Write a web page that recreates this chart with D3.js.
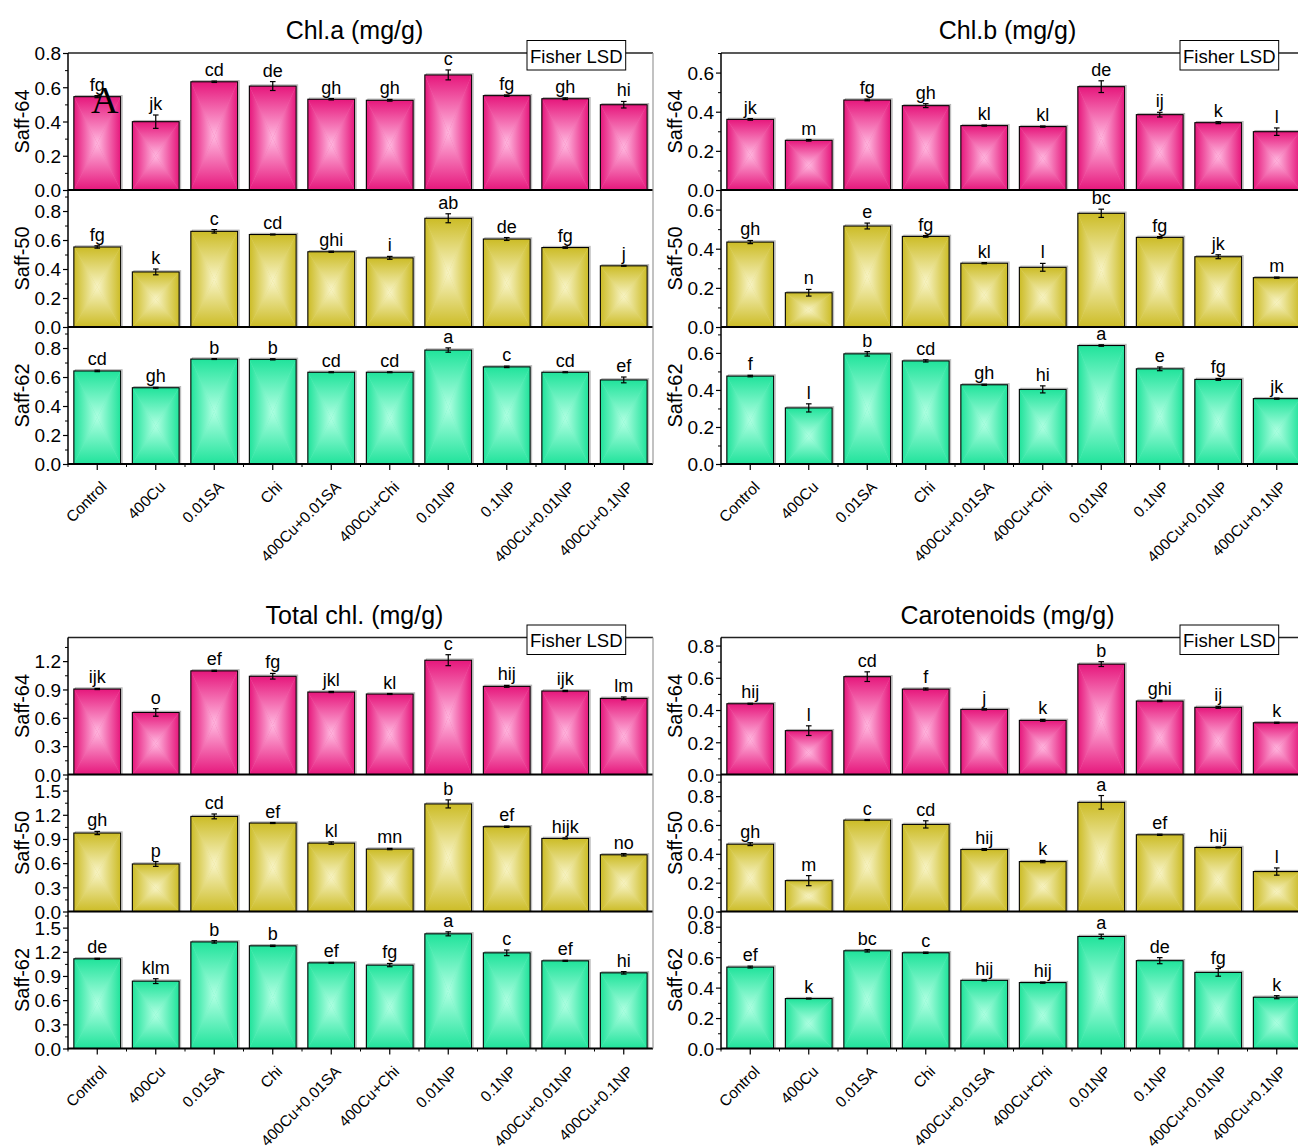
<!DOCTYPE html>
<html><head><meta charset="utf-8">
<script src="https://cdn.jsdelivr.net/npm/d3@7"></script>
<style>
body{margin:0;background:#fff;}
svg text{font-family:"Liberation Sans",Arial,sans-serif;fill:#000;}
</style></head><body>
<svg id="chart" width="1298" height="1146"></svg>
<script>
const categories = ["Control","400Cu","0.01SA","Chi","400Cu+0.01SA","400Cu+Chi","0.01NP","0.1NP","400Cu+0.01NP","400Cu+0.1NP"];
const genotypes = ["Saff-64","Saff-50","Saff-62"];
const panelTitles = ["Chl.a (mg/g)","Chl.b (mg/g)","Total chl. (mg/g)","Carotenoids (mg/g)"];
const legendText = "Fisher LSD";
const panelTag = "A";

const chlA_mean = [
 [0.545,0.399,0.632,0.607,0.530,0.524,0.672,0.551,0.533,0.498],
 [0.552,0.380,0.660,0.638,0.519,0.477,0.750,0.607,0.548,0.422],
 [0.642,0.526,0.724,0.722,0.633,0.633,0.786,0.670,0.633,0.580]];
const chlA_sd = [
 [0.006,0.039,0.004,0.026,0.004,0.005,0.029,0.004,0.005,0.019],
 [0.008,0.020,0.012,0.003,0.004,0.010,0.031,0.010,0.005,0.003],
 [0.005,0.003,0.003,0.004,0.003,0.003,0.015,0.005,0.003,0.020]];
const chlA_letters = [
 ["fg","jk","cd","de","gh","gh","c","fg","gh","hi"],
 ["fg","k","c","cd","ghi","i","ab","de","fg","j"],
 ["cd","gh","b","b","cd","cd","a","c","cd","ef"]];
const chlA_ymax = [0.8, 0.945, 0.945];
const chlA_ticks = [0,0.2,0.4,0.6,0.8];

const chlB_mean = [
 [0.361,0.254,0.460,0.431,0.329,0.324,0.528,0.385,0.344,0.298],
 [0.434,0.175,0.516,0.463,0.326,0.305,0.581,0.458,0.359,0.252],
 [0.475,0.303,0.595,0.557,0.428,0.403,0.640,0.514,0.457,0.353]];
const chlB_sd = [
 [0.004,0.004,0.004,0.010,0.003,0.003,0.030,0.012,0.005,0.019],
 [0.008,0.017,0.015,0.004,0.003,0.020,0.021,0.004,0.010,0.003],
 [0.004,0.022,0.012,0.006,0.003,0.019,0.004,0.010,0.005,0.003]];
const chlB_letters = [
 ["jk","m","fg","gh","kl","kl","de","ij","k","l"],
 ["gh","n","e","fg","kl","l","bc","fg","jk","m"],
 ["f","l","b","cd","gh","hi","a","e","fg","jk"]];
const chlB_ymax = [0.7, 0.7, 0.74];
const chlB_ticks = [0,0.2,0.4,0.6];

const totChl_mean = [
 [0.905,0.657,1.097,1.040,0.873,0.852,1.210,0.933,0.884,0.806],
 [0.974,0.590,1.180,1.098,0.849,0.775,1.335,1.052,0.907,0.704],
 [1.113,0.836,1.323,1.274,1.063,1.035,1.423,1.187,1.088,0.939]];
const totChl_sd = [
 [0.006,0.040,0.006,0.030,0.006,0.005,0.058,0.010,0.006,0.015],
 [0.020,0.030,0.030,0.006,0.015,0.008,0.050,0.008,0.006,0.015],
 [0.006,0.030,0.015,0.008,0.006,0.020,0.025,0.035,0.006,0.015]];
const totChl_letters = [
 ["ijk","o","ef","fg","jkl","kl","c","hij","ijk","lm"],
 ["gh","p","cd","ef","kl","mn","b","ef","hijk","no"],
 ["de","klm","b","b","ef","fg","a","c","ef","hi"]];
const totChl_ymax = [1.45, 1.7, 1.7];
const totChl_ticks = [0,0.3,0.6,0.9,1.2,1.5];

const carot_mean = [
 [0.439,0.272,0.607,0.530,0.404,0.336,0.685,0.456,0.417,0.321],
 [0.467,0.214,0.634,0.604,0.430,0.346,0.757,0.532,0.444,0.277],
 [0.535,0.328,0.642,0.629,0.448,0.433,0.736,0.577,0.500,0.337]];
const carot_sd = [
 [0.003,0.030,0.030,0.006,0.004,0.006,0.015,0.004,0.006,0.003],
 [0.010,0.035,0.003,0.025,0.006,0.008,0.047,0.004,0.003,0.025],
 [0.006,0.003,0.008,0.004,0.004,0.004,0.015,0.020,0.025,0.010]];
const carot_letters = [
 ["hij","l","cd","f","j","k","b","ghi","ij","k"],
 ["gh","m","c","cd","hij","k","a","ef","hij","l"],
 ["ef","k","bc","c","hij","hij","a","de","fg","k"]];
const carot_ymax = [0.85, 0.95, 0.9];
const carot_ticks = [0,0.2,0.4,0.6,0.8];

const barEdgeColors = ["#E6177C","#CCBC26","#20E39B"];
const barCenterColors = ["#FFB8DF","#F8F4C6","#B0FFE2"];

// ---------------- drawing ----------------
const svg = d3.select("#chart");
const defs = svg.append("defs");
const dirs = {top:[0,0,0,1], bottom:[0,1,0,0], left:[0,0,1,0], right:[1,0,0,0]};
barEdgeColors.forEach((ec,i)=>{
  Object.entries(dirs).forEach(([k,v])=>{
    const g = defs.append("linearGradient").attr("id",`g${i}-${k}`)
      .attr("x1",v[0]).attr("y1",v[1]).attr("x2",v[2]).attr("y2",v[3]);
    g.append("stop").attr("offset",0).attr("stop-color",ec);
    g.append("stop").attr("offset",1).attr("stop-color",barCenterColors[i]);
  });
});

const W = 585, H = 137;
const panels = [
  {left:68, top:53, mean:chlA_mean, sd:chlA_sd, letters:chlA_letters, ymax:chlA_ymax, ticks:chlA_ticks, step:0.2},
  {left:721, top:53, mean:chlB_mean, sd:chlB_sd, letters:chlB_letters, ymax:chlB_ymax, ticks:chlB_ticks, step:0.2},
  {left:68, top:637.5, mean:totChl_mean, sd:totChl_sd, letters:totChl_letters, ymax:totChl_ymax, ticks:totChl_ticks, step:0.3},
  {left:721, top:637.5, mean:carot_mean, sd:carot_sd, letters:carot_letters, ymax:carot_ymax, ticks:carot_ticks, step:0.2}
];

panels.forEach((p,pi)=>{
  const g = svg.append("g");
  const x = d3.scaleBand().domain(categories).range([p.left, p.left+W]).paddingInner(0.2).paddingOuter(0.1);
  const bw = x.bandwidth();

  genotypes.forEach((gen,si)=>{
    const top = p.top + si*H, bottom = top + H;
    const y = d3.scaleLinear().domain([0, p.ymax[si]]).range([bottom, top]);
    const sg = g.append("g");
    categories.forEach((c,ci)=>{
      const v = p.mean[si][ci], e = p.sd[si][ci];
      const x0 = x(c), x1 = x0+bw, y0 = y(v), y1 = y(0);
      const cx = (x0+x1)/2, cy = (y0+y1)/2;
      // shadow
      sg.append("rect").attr("x",x0+1.5).attr("y",y0-1.2).attr("width",bw).attr("height",y1-y0+1.2)
        .attr("fill","none").attr("stroke","#b5b5b5").attr("stroke-width",1);
      sg.append("rect").attr("x",x0).attr("y",y0).attr("width",bw).attr("height",y1-y0)
        .attr("fill", d3.interpolateRgb(barEdgeColors[si], barCenterColors[si])(0.5));
      sg.append("path").attr("d",`M${x0},${y0}L${x1},${y0}L${cx},${cy}Z`).attr("fill",`url(#g${si}-top)`);
      sg.append("path").attr("d",`M${x0},${y1}L${x1},${y1}L${cx},${cy}Z`).attr("fill",`url(#g${si}-bottom)`);
      sg.append("path").attr("d",`M${x0},${y0}L${x0},${y1}L${cx},${cy}Z`).attr("fill",`url(#g${si}-left)`);
      sg.append("path").attr("d",`M${x1},${y0}L${x1},${y1}L${cx},${cy}Z`).attr("fill",`url(#g${si}-right)`);
      sg.append("rect").attr("x",x0).attr("y",y0).attr("width",bw).attr("height",y1-y0)
        .attr("fill","none").attr("stroke","#000").attr("stroke-width",1.1);
      // error bar
      const ye1 = y(v+e), ye2 = y(v-e);
      sg.append("line").attr("x1",cx).attr("x2",cx).attr("y1",ye1).attr("y2",ye2).attr("stroke","#000").attr("stroke-width",1.2);
      sg.append("line").attr("x1",cx-2.8).attr("x2",cx+2.8).attr("y1",ye1).attr("y2",ye1).attr("stroke","#000").attr("stroke-width",1.2);
      sg.append("line").attr("x1",cx-2.8).attr("x2",cx+2.8).attr("y1",ye2).attr("y2",ye2).attr("stroke","#000").attr("stroke-width",1.2);
      // letter
      sg.append("text").attr("x",cx).attr("y",ye1-5).attr("text-anchor","middle")
        .attr("font-size",18).text(p.letters[si][ci]);
    });

    // y axis
    const minor = d3.range(0, p.ymax[si]+1e-9, p.step/2).filter(t=>!p.ticks.some(m=>Math.abs(m-t)<1e-9));
    const ya = sg.append("g").attr("transform",`translate(${p.left},0)`)
      .call(d3.axisLeft(y).tickValues(p.ticks.filter(t=>t<=p.ymax[si]+1e-9)).tickSize(5).tickPadding(2).tickFormat(d3.format(".1f")));
    ya.select(".domain").remove();
    ya.selectAll("text").attr("font-size",19).attr("font-family","Liberation Sans, Arial, sans-serif").attr("dy","0.36em");
    ya.selectAll("line").attr("stroke","#000").attr("stroke-width",1.2);
    const ym = sg.append("g").attr("transform",`translate(${p.left},0)`)
      .call(d3.axisLeft(y).tickValues(minor).tickSize(3).tickFormat(""));
    ym.select(".domain").remove();
    ym.selectAll("line").attr("stroke","#000").attr("stroke-width",1);

    // y title
    sg.append("text").attr("transform",`translate(${p.left-39},${(top+bottom)/2}) rotate(-90)`)
      .attr("text-anchor","middle").attr("font-size",20).text(gen);

    // bottom axis line of subplot
    sg.append("line").attr("x1",p.left).attr("x2",p.left+W).attr("y1",bottom).attr("y2",bottom)
      .attr("stroke","#000").attr("stroke-width",2);
  });

  const plotBottom = p.top + 3*H;
  // x axis (bottom subplot only)
  const xa = g.append("g").attr("transform",`translate(0,${plotBottom})`)
    .call(d3.axisBottom(x).tickSize(6).tickPadding(2));
  xa.select(".domain").remove();
  xa.selectAll("line").attr("stroke","#000").attr("stroke-width",1.2);
  xa.selectAll("text").attr("font-size",15.5).attr("font-family","Liberation Sans, Arial, sans-serif")
    .attr("text-anchor","end").attr("x",-9.5).attr("y",19).attr("dy","0.35em").attr("transform","rotate(-45)");
  const minorX = categories.map(c=>x(c)+bw/2+x.step()/2).slice(0,-1).concat([p.left]);
  g.append("g").selectAll("line").data(minorX).join("line")
    .attr("x1",d=>d).attr("x2",d=>d).attr("y1",plotBottom).attr("y2",plotBottom+3)
    .attr("stroke","#000").attr("stroke-width",1);

  // frame
  g.append("line").attr("x1",p.left).attr("x2",p.left+W).attr("y1",p.top).attr("y2",p.top).attr("stroke","#222").attr("stroke-width",1.3);
  g.append("line").attr("x1",p.left+W).attr("x2",p.left+W).attr("y1",p.top).attr("y2",plotBottom).attr("stroke","#999").attr("stroke-width",1.2);
  g.append("line").attr("x1",p.left).attr("x2",p.left).attr("y1",p.top).attr("y2",plotBottom+1).attr("stroke","#000").attr("stroke-width",1.5);

  // title
  g.append("text").attr("x",p.left+W/2-6).attr("y",p.top-14).attr("text-anchor","middle")
    .attr("font-size",25).text(panelTitles[pi]);

  // legend box
  const bx = p.left+W-126;
  g.append("rect").attr("x",bx).attr("y",p.top-12.5).attr("width",98.7).attr("height",29.5)
    .attr("fill","#fff").attr("stroke","#000").attr("stroke-width",1);
  g.append("text").attr("x",bx+49.3).attr("y",p.top+9.5).attr("text-anchor","middle")
    .attr("font-size",18.5).text(legendText);
});

// panel tag
svg.append("text").attr("x",91).attr("y",113).attr("font-size",38)
  .style("font-family","'Liberation Serif','Times New Roman',serif").text(panelTag);
</script>
</body></html>
